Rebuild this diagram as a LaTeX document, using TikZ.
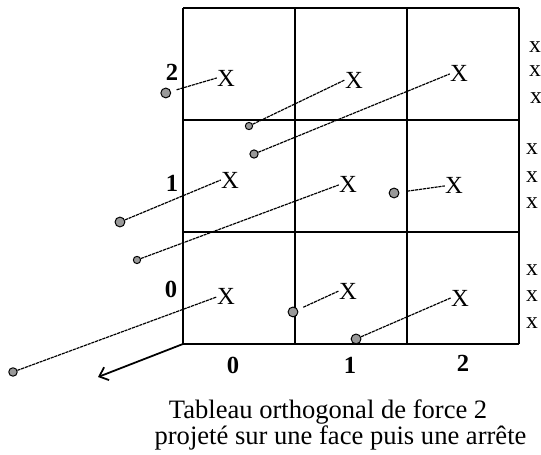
\documentclass[tikz,border=0pt]{standalone}
\usepackage{fontspec}
\setmainfont{Liberation Serif}
\usepackage{tikz}
\usetikzlibrary{arrows.meta}

\begin{document}
\begin{tikzpicture}[x=2cm,y=2cm,>={Straight Barb[length=4pt,width=7pt]},line join=round,
  cross/.style={inner sep=0pt,font=\fontsize{12.5}{14}\selectfont},
  ptbig/.style={circle,draw,fill=gray!80,inner sep=0pt,minimum size=5pt,line width=0.5pt},
  ptsmall/.style={ptbig,minimum size=3.7pt},
  proj/.style={line width=0.6pt,dash pattern=on 1.6pt off 0.4pt},
  axlab/.style={font=\fontsize{12.5}{14}\selectfont\bfseries},
  lvl/.style={inner sep=0pt,font=\fontsize{12}{14}\selectfont}]
  \useasboundingbox (-1.634,-0.991) rectangle (3.196,3.071);
  \coordinate (O) at (0.000,0.000);
  \coordinate (E) at (-0.759,-0.295);
  % face of the cube
  \draw[line width=1pt] (0,0) grid[step=2cm] (3,3);
  \draw[line width=0.9pt,->] (O) -- (E);
  % points of the array
  \node[cross] (X02) at (0.384,2.375) {X};
  \node[cross] (X12) at (1.527,2.357) {X};
  \node[cross] (X22) at (2.464,2.411) {X};
  \node[cross] (X01) at (0.420,1.464) {X};
  \node[cross] (X11) at (1.473,1.420) {X};
  \node[cross] (X21) at (2.420,1.411) {X};
  \node[cross] (X00) at (0.384,0.420) {X};
  \node[cross] (X10) at (1.473,0.473) {X};
  \node[cross] (X20) at (2.473,0.411) {X};
  % their shadows along the depth
  \node[ptbig]   (P02) at (-0.154,2.241) {};
  \node[ptsmall] (P12) at (0.589,1.946) {};
  \node[ptsmall,minimum size=4.2pt] (P22) at (0.634,1.696) {};
  \node[ptbig]   (P01) at (-0.563,1.089) {};
  \node[ptsmall] (P11) at (-0.411,0.750) {};
  \node[ptbig]   (P21) at (1.884,1.348) {};
  \node[ptsmall,minimum size=4.3pt] (P00) at (-1.518,-0.250) {};
  \node[ptbig]   (P10) at (0.982,0.286) {};
  \node[ptbig]   (P20) at (1.545,0.045) {};
  \draw[proj,shorten <=3pt] (P02) -- (X02.west);
  \draw[proj] (P12) -- (X12.west);
  \draw[proj] (P22) -- (X22.west);
  \draw[proj] (P01) -- (X01.west);
  \draw[proj] (P11) -- (X11.west);
  \draw[proj,shorten <=4pt] (P21) -- (X21.west);
  \draw[proj] (P00) -- (X00.west);
  \draw[proj,shorten <=3pt] (P10) -- (X10.west);
  \draw[proj] (P20) -- (X20.west);
  % levels on the axes
  \node[axlab] (L2) at (-0.098,2.429) {2};
  \node[axlab] (L1) at (-0.098,1.438) {1};
  \node[axlab] (L0) at (-0.107,0.491) {0};
  \node[axlab] (C0) at (0.446,-0.188) {0};
  \node[axlab] (C1) at (1.491,-0.188) {1};
  \node[axlab] (C2) at (2.500,-0.170) {2};
  % projection on the edge
  \node[lvl] (e22) at (3.143,2.652) {x};
  \node[lvl] (e21) at (3.143,2.438) {x};
  \node[lvl] (e20) at (3.152,2.196) {x};
  \node[lvl] (e12) at (3.116,1.741) {x};
  \node[lvl] (e11) at (3.116,1.491) {x};
  \node[lvl] (e10) at (3.116,1.259) {x};
  \node[lvl] (e02) at (3.116,0.661) {x};
  \node[lvl] (e01) at (3.116,0.429) {x};
  \node[lvl] (e00) at (3.116,0.188) {x};
  \node[font=\fontsize{13.5}{15}\selectfont] (cap1) at (1.295,-0.607) {Tableau orthogonal de force 2};
  \node[font=\fontsize{13.5}{15}\selectfont] (cap2) at (1.406,-0.839) {projeté sur une face puis une arrête};
\end{tikzpicture}
\end{document}
